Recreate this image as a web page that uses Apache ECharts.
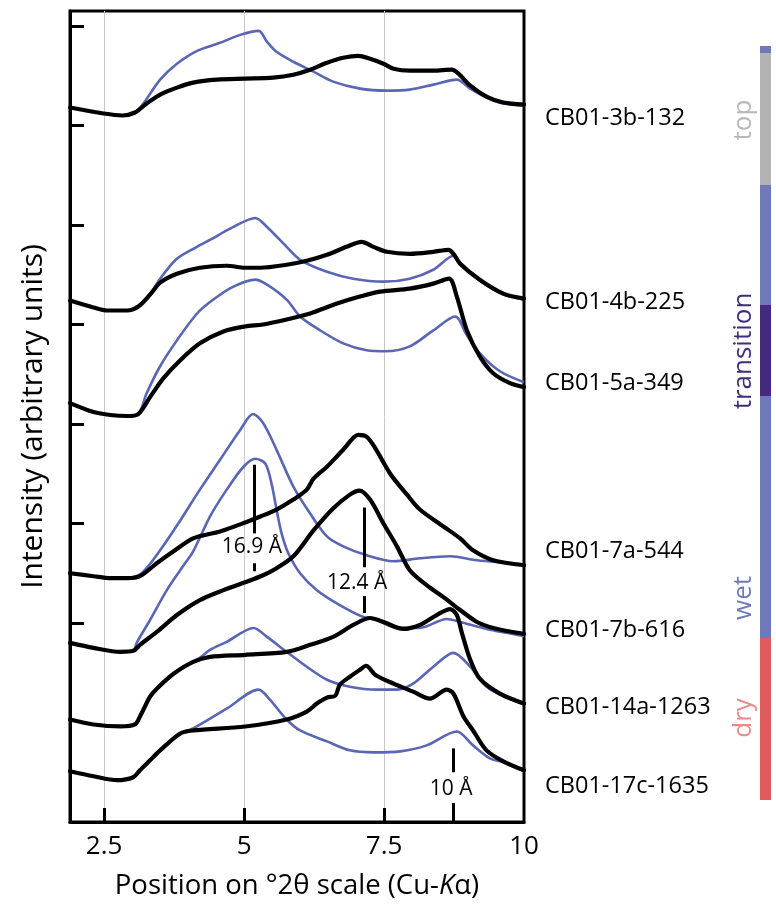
<!DOCTYPE html>
<html><head><meta charset="utf-8">
<script src="https://cdn.jsdelivr.net/npm/echarts@6/dist/echarts.min.js"></script>
<style>html,body{margin:0;padding:0;background:#fff}#c{width:776px;height:909px}</style>
</head><body><div id="c"></div>
<script>
const FONT = '"Open Sans", "Noto Sans", sans-serif';
const BLUE = '#5a66b3';

// Axis ticks / labels
const xTickValues = [2.5, 5, 7.5];
const xLabelValues = [2.5, 5, 7.5, 10];
const yTickValues = [200, 300, 400, 500, 600, 700, 800];

// Samples (top to bottom)
const sampleNames = ['CB01-3b-132','CB01-4b-225','CB01-5a-349','CB01-7a-544','CB01-7b-616','CB01-14a-1263','CB01-17c-1635'];

// Black traces (air-dried) [°2θ, intensity]
const ad_3b_132 = [[1.89,718],[2.49,712],[2.82,710],[3.05,713],[3.26,722],[3.50,731],[3.80,738],[4.09,743],[4.51,746],[5.02,747],[5.52,748],[5.88,751],[6.18,756],[6.48,763],[6.77,768],[7.04,770],[7.25,767],[7.49,762],[7.67,757],[7.96,755],[8.38,755],[8.71,756],[8.83,752],[9.04,740],[9.33,729],[9.63,723],[10,721]];
const ad_4b_225 = [[1.89,524],[2.31,517],[2.55,514],[2.91,514],[3.11,518],[3.32,530],[3.50,542],[3.80,551],[4.21,557],[4.69,559],[5.02,557],[5.29,557],[5.76,560],[6.12,564],[6.48,570],[6.83,578],[7.10,583],[7.31,578],[7.55,573],[7.96,571],[8.38,573],[8.65,575],[8.74,571],[8.86,561],[9.21,545],[9.63,531],[10,526]];
const ad_5a_349 = [[1.89,421],[2.31,412],[2.61,409],[2.91,408],[3.11,410],[3.32,427],[3.56,446],[3.86,464],[4.21,481],[4.63,493],[5.02,498],[5.34,500],[5.76,505],[6.18,511],[6.66,521],[7.07,528],[7.43,533],[7.96,536],[8.38,541],[8.66,546],[8.80,528],[8.98,494],[9.21,468],[9.45,451],[9.75,441],[10,437]];
const ad_7a_544 = [[1.89,250],[2.31,247],[2.61,245],[2.91,245],[3.14,247],[3.44,260],[3.74,272],[4.09,285],[4.57,292],[5.02,301],[5.29,307],[5.58,314],[5.88,324],[6.12,334],[6.24,345],[6.48,357],[6.77,374],[7.04,389],[7.19,387],[7.34,376],[7.61,350],[7.91,329],[8.14,314],[8.56,297],[8.86,285],[9.09,273],[9.45,263],[10,258]];
const ad_7b_616 = [[1.89,180],[2.31,175],[2.79,171],[3.02,172],[3.14,178],[3.44,191],[3.80,208],[4.21,223],[4.63,233],[5.02,241],[5.34,248],[5.58,255],[5.88,267],[6.24,293],[6.59,315],[6.89,329],[7.06,333],[7.25,324],[7.49,300],[7.73,277],[7.96,253],[8.26,238],[8.56,226],[8.86,213],[9.16,201],[9.45,195],[10,189]];
const ad_14a_1263 = [[1.89,103],[2.31,98],[2.79,96],[3.05,98],[3.14,106],[3.32,126],[3.44,134],[3.74,149],[4.09,161],[4.39,166],[5.02,168],[5.76,171],[6.18,178],[6.59,186],[6.95,198],[7.25,205],[7.49,201],[7.84,194],[8.14,198],[8.44,208],[8.68,214],[8.80,208],[8.89,190],[9.04,163],[9.21,144],[9.57,129],[10,119]];
const ad_17c_1635 = [[1.89,51],[2.31,46],[2.73,42],[3.02,45],[3.14,52],[3.32,62],[3.50,72],[3.86,89],[4.09,92],[5.02,96],[5.76,103],[6.12,111],[6.30,119],[6.48,125],[6.63,127],[6.71,138],[6.89,146],[7.07,153],[7.18,157],[7.34,148],[7.67,139],[8.02,131],[8.32,124],[8.62,133],[8.74,129],[8.92,106],[9.09,92],[9.33,72],[9.63,61],[10,52]];

// Blue traces (glycolated) [°2θ, intensity]
const eg_3b_132 = [[1.89,718],[2.49,712],[2.82,710],[3.05,713],[3.20,722],[3.50,746],[3.80,762],[4.16,775],[4.57,783],[4.93,791],[5.26,795],[5.41,784],[5.58,774],[5.88,764],[6.24,754],[6.59,744],[7.07,737],[7.55,735],[7.96,736],[8.38,741],[8.80,746],[9.04,737],[9.33,728],[9.63,722],[10,720]];
const eg_4b_225 = [[1.89,524],[2.31,517],[2.55,514],[2.91,514],[3.11,518],[3.32,530],[3.50,546],[3.80,566],[4.16,578],[4.39,585],[4.81,598],[5.20,607],[5.41,598],[5.76,578],[6.00,565],[6.48,553],[6.95,546],[7.49,543],[7.96,546],[8.38,555],[8.74,569],[8.86,560],[9.21,544],[9.63,530],[10,525]];
const eg_5a_349 = [[1.89,421],[2.31,412],[2.61,409],[2.91,408],[3.11,410],[3.26,431],[3.50,458],[3.80,484],[4.16,511],[4.45,525],[4.81,538],[5.20,545],[5.41,540],[5.76,525],[6.00,508],[6.36,494],[6.77,481],[7.19,474],[7.52,473],[7.96,478],[8.38,494],[8.77,508],[8.98,489],[9.21,471],[9.57,453],[10,442]];
const eg_7a_544 = [[1.89,250],[2.31,247],[2.61,245],[2.91,245],[3.17,250],[3.50,273],[3.86,303],[4.21,334],[4.57,364],[4.93,394],[5.16,410],[5.34,401],[5.58,374],[5.88,337],[6.18,310],[6.48,287],[6.77,277],[7.19,268],[7.67,262],[8.14,265],[8.68,267],[9.16,263],[10,259]];
const eg_7b_616 = [[1.89,180],[2.31,175],[2.79,171],[3.02,172],[3.08,180],[3.32,203],[3.62,233],[3.92,258],[4.09,272],[4.39,307],[4.69,334],[4.99,357],[5.20,365],[5.38,360],[5.49,340],[5.58,314],[5.67,290],[5.79,270],[6.00,250],[6.30,233],[6.71,218],[7.13,206],[7.37,203],[7.67,196],[8.14,195],[8.62,204],[8.86,201],[9.33,194],[10,187]];
const eg_14a_1263 = [[1.89,103],[2.31,98],[2.79,96],[3.05,98],[3.14,106],[3.32,126],[3.44,134],[3.74,149],[4.09,161],[4.21,165],[4.39,173],[4.69,181],[5.17,195],[5.41,186],[5.76,171],[6.12,156],[6.48,143],[6.89,136],[7.37,133],[7.73,133],[8.02,139],[8.38,156],[8.74,170],[9.04,156],[9.33,136],[9.57,128],[10,118]];
const eg_17c_1635 = [[1.89,51],[2.31,46],[2.73,42],[3.02,45],[3.14,52],[3.32,62],[3.50,72],[3.86,89],[4.09,94],[4.69,114],[5.26,133],[5.46,123],[5.76,103],[6.00,92],[6.48,81],[6.89,72],[7.31,70],[7.79,71],[8.26,77],[8.80,91],[9.09,77],[9.39,64],[9.63,60],[10,51]];

// Peak annotations
const peakLabels = ['16.9 Å', '12.4 Å', '10 Å'];
const peakPositions = [5.18, 7.15, 8.74];

// Zone colour bar (top to bottom)
const zoneNames = ['wet', 'top', 'wet', 'transition', 'wet', 'dry'];
const zoneLengths = [7, 132, 120, 91, 242, 162];
const zoneLabels = ['top', 'transition', 'wet', 'dry'];

// ---------- styling / layout ----------
const zoneColors = {wet:'#6f79b9', top:'#b3b3b3', transition:'#432a7d', dry:'#e05c5c'};
const zoneTextColors = {top:'#b8b8b8', transition:'#432a7d', wet:'#6f79b9', dry:'#e88c8c'};
const zoneLabelY = {top:120, transition:351, wet:598, dry:718};
const labelDy = [14, 4, -4, -14, -4, 4, 16];
const peakText = [[5.14, 276], [7.02, 240], [8.70, 33]];
const peakSegments = [[[359,290],[260,252]], [[316,256],[227,210]], [[74,50],[19,0]]];

const adTraces = [ad_3b_132, ad_4b_225, ad_5a_349, ad_7a_544, ad_7b_616, ad_14a_1263, ad_17c_1635];
const egTraces = [eg_3b_132, eg_4b_225, eg_5a_349, eg_7a_544, eg_7b_616, eg_14a_1263, eg_17c_1635];

const series = [];
egTraces.forEach((d, i) => {
  series.push({type:'line', name: sampleNames[i] + ' (EG)', data: d, symbol:'none', smooth:0.3,
    lineStyle:{color:BLUE, width:2.6, join:'round'}, z:2, silent:true, xAxisIndex:0, yAxisIndex:0});
});
adTraces.forEach((d, i) => {
  series.push({type:'line', name: sampleNames[i], data: d, symbol:'none', smooth:0.3,
    lineStyle:{color:'#000', width:4.2, join:'round', cap:'round'}, z:3, silent:true, xAxisIndex:0, yAxisIndex:0,
    endLabel:{show:true, formatter: () => sampleNames[i], distance:0, offset:[21, labelDy[i]],
      fontSize:23.5, fontFamily:FONT, color:'#000', align:'left', verticalAlign:'middle'}});
});
const markData = [];
peakPositions.forEach((x, i) => {
  peakSegments[i].forEach(seg => markData.push([{coord:[x, seg[0]]}, {coord:[x, seg[1]]}]));
});
series.push({type:'scatter', name:'peaks', xAxisIndex:0, yAxisIndex:0, z:5, silent:true,
  data: peakText.map((p, i) => [p[0], p[1], peakLabels[i]]),
  symbolSize:0, itemStyle:{color:'#000', opacity:1},
  label:{show:true, position:'inside', formatter: p => p.data[2], fontSize:21, fontFamily:FONT, color:'#000', textBorderWidth:0, opacity:1},
  emphasis:{disabled:true},
  markLine:{silent:true, symbol:['none','none'], label:{show:false}, lineStyle:{color:'#000', width:3, type:'solid', opacity:1}, data: markData}
});
zoneNames.forEach((z, i) => {
  series.push({type:'bar', name:'zone'+i, xAxisIndex:1, yAxisIndex:1, stack:'zones', barWidth:'100%', silent:true,
    data:[zoneLengths[i]], itemStyle:{color: zoneColors[z]}});
});

const option = {
  animation:false,
  backgroundColor:'#fff',
  grid:[
    {left:70, top:11, width:454, height:811, show:true, borderColor:'#000', borderWidth:3, backgroundColor:'transparent', containLabel:false, outerBoundsMode:'none'},
    {left:760, top:46, width:11, height:754, show:false, containLabel:false, outerBoundsMode:'none'}
  ],
  xAxis:[
    {type:'value', gridIndex:0, min:1.89, max:10,
      axisLine:{show:true, onZero:false, lineStyle:{color:'#000', width:3}},
      axisTick:{show:true, inside:true, length:14, lineStyle:{color:'#000', width:3}, customValues:xTickValues},
      axisLabel:{show:true, customValues:xLabelValues, fontSize:26, fontFamily:FONT, color:'#000', margin:12},
      splitLine:{show:true, lineStyle:{color:'#c8c8c8', width:1}},
      name:'{n|Position on °2θ scale (Cu-}{i|K}{n|α)}', nameLocation:'middle', nameGap:50,
      nameTextStyle:{rich:{n:{fontSize:27.5, fontFamily:FONT, color:'#000'}, i:{fontSize:27.5, fontFamily:FONT, fontStyle:'italic', color:'#000'}}}
    },
    {type:'category', gridIndex:1, data:['zones'], show:false}
  ],
  yAxis:[
    {type:'value', gridIndex:0, min:0, max:815,
      axisLine:{show:true, onZero:false, lineStyle:{color:'#000', width:3}},
      axisTick:{show:true, inside:true, length:14, lineStyle:{color:'#000', width:3}, customValues:yTickValues},
      axisLabel:{show:false},
      splitLine:{show:false},
      name:'Intensity (arbitrary units)', nameLocation:'middle', nameGap:22,
      nameTextStyle:{fontSize:30, fontFamily:FONT, color:'#000'}
    },
    {type:'value', gridIndex:1, min:0, max:754, inverse:true, show:false}
  ],
  graphic: zoneLabels.map(z => ({type:'text', x:744, y:zoneLabelY[z], rotation:Math.PI/2, silent:true,
    style:{text:z, fill:zoneTextColors[z], fontSize:26, fontFamily:FONT, align:'center', verticalAlign:'middle'}})),
  series: series
};
const chart = echarts.init(document.getElementById('c'));
chart.setOption(option);
</script>
</body></html>
